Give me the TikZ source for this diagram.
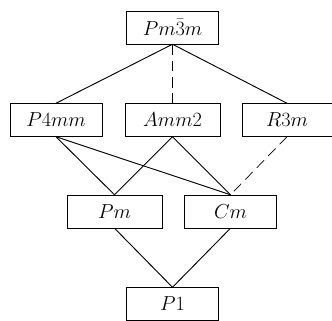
\documentclass[tikz,border=0pt]{standalone}
\usepackage{amsmath}
\usepackage{tikz}
\usetikzlibrary{positioning}
\tikzset{grp/.style={draw, thin, minimum width=2.76cm, minimum height=0.99cm, inner sep=0pt, font=\fontsize{18}{20}\selectfont},
  link/.style={thick},
  dlink/.style={semithick, dash pattern=on 9pt off 5pt}}
\begin{document}
\begin{tikzpicture}
\useasboundingbox (0,0) rectangle (9.96,9.6);
% Cubic parent
\node[grp] (pm3m) at (5.175,8.775) {$Pm\bar{3}m$};
% Tetragonal, orthorhombic, rhombohedral
\node[grp] (p4mm) at (1.68,6.0) {$P4mm$};
\node[grp, minimum width=2.85cm] (amm2) at (5.175,6.0) {$Amm2$};
\node[grp, minimum width=2.7cm] (r3m) at (8.61,6.0) {$R3m$};
% Monoclinic
\node[grp, minimum width=2.85cm] (pm) at (3.435,3.255) {$Pm$};
\node[grp] (cm) at (6.915,3.255) {$Cm$};
% Triclinic
\node[grp] (p1) at (5.175,0.48) {$P1$};
% Group-subgroup links
\draw[link] (pm3m.south) -- (p4mm.north);
\draw[dlink] (pm3m.south) -- (amm2.north);
\draw[link] (pm3m.south) -- (r3m.north);
\draw[link] (p4mm.south) -- (pm.north);
\draw[link] (p4mm.south) -- (cm.north);
\draw[link] (amm2.south) -- (pm.north);
\draw[link] (amm2.south) -- (cm.north);
\draw[dlink] (r3m.south) -- (cm.north);
\draw[link] (pm.south) -- (p1.north);
\draw[link] (cm.south) -- (p1.north);
\end{tikzpicture}
\end{document}
